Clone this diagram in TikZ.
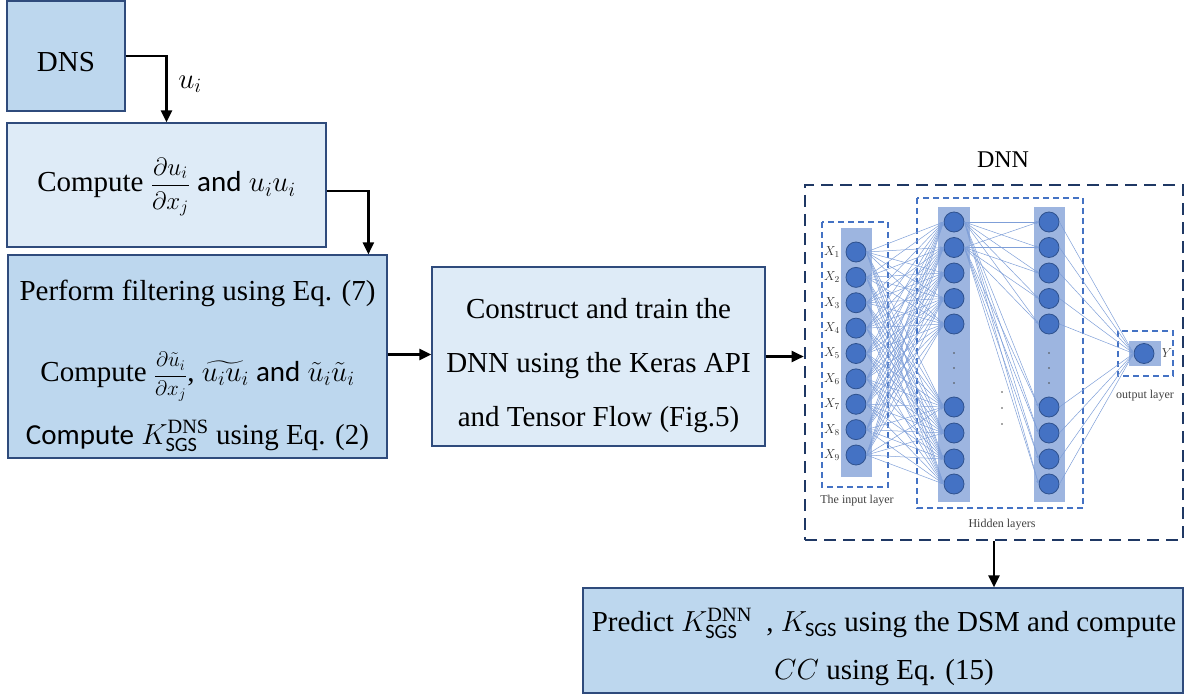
\RequirePackage{fix-cm}
\documentclass[tikz,border=0pt]{standalone}
\usepackage{amsmath}
\usepackage{fontspec}
\setmainfont{Liberation Serif}
\newfontfamily\calibri{Carlito}
\usetikzlibrary{arrows.meta}

\definecolor{boxedge}{HTML}{2F4B7C}
\definecolor{boxmid}{HTML}{BDD7EE}
\definecolor{boxlight}{HTML}{DEEBF7}
\definecolor{netdash}{HTML}{1F3864}
\definecolor{layerdash}{HTML}{4472C4}
\definecolor{barfill}{HTML}{9DB5E0}
\definecolor{neuronfill}{HTML}{4472C4}
\definecolor{neuronedge}{HTML}{2F528F}
\definecolor{wirecol}{HTML}{7F9FD8}
\definecolor{smalltext}{HTML}{404040}

% fraction set in a slightly reduced size
\newcommand{\midfrac}[3]{{\fontsize{#1}{#1}\selectfont$\dfrac{#2}{#3}$}}

\begin{document}
\begin{tikzpicture}[x=1pt,y=-1pt,
  procbox/.style={draw=boxedge, line width=1.2pt, inner sep=0pt},
  bigtxt/.style={inner sep=0pt, font=\fontsize{29}{35}\selectfont},
  flow/.style={line width=2.3pt, -{Triangle[length=12pt,width=11pt]}},
  netframe/.style={draw=netdash, line width=2.6pt, dash pattern=on 12pt off 7pt},
  layerframe/.style={draw=layerdash, line width=1.2pt, dash pattern=on 6pt off 4pt},
  layerbar/.style={fill=barfill, draw=none},
  neuron/.style={circle, minimum size=20pt, inner sep=0pt, fill=neuronfill,
    draw=neuronedge, line width=0.8pt},
  wire/.style={draw=wirecol, line width=0.5pt, -{Stealth[length=3.5pt,width=2.6pt]}},
  smalllabel/.style={inner sep=0pt, text=smalltext, font=\fontsize{12}{14}\selectfont},
  dotmark/.style={fill=black!70, draw=none}
]
\useasboundingbox (0,0) rectangle (1187,698);

% ---------- process boxes ----------
\node[procbox, fill=boxmid, minimum width=118pt, minimum height=110pt]
  (dns) at (66,56) {};
\node[bigtxt] (dnstxt) at (66,62) {DNS};
\node[procbox, fill=boxlight, minimum width=319pt, minimum height=124pt]
  (compute) at (166.5,185) {};
\node[bigtxt] (comptxt) at (166.5,187)
  {Compute \midfrac{25}{\partial u_i}{\partial x_j} {\calibri and} $u_i u_i$};
\node[procbox, fill=boxmid, minimum width=379pt, minimum height=203pt]
  (filter) at (197.5,356.5) {};
\node[bigtxt] (filt1) at (197.5,293) {Perform filtering using Eq. (7)};
\node[bigtxt] (filt2) at (197.5,377)
  {Compute \midfrac{21}{\partial \tilde{u}_i}{\partial x_j}, $\widetilde{u_i u_i}$ {\calibri and} $\tilde{u}_i\tilde{u}_i$};
\node[bigtxt] (filt3) at (197.5,436)
  {{\calibri Compute} $K^{\text{DNS}}_{\text{\calibri SGS}}$ using Eq. (2)};
\node[procbox, fill=boxlight, minimum width=333pt, minimum height=179pt]
  (construct) at (598.5,356.5) {};
\node[bigtxt, align=center, font=\fontsize{29}{54}\selectfont] (consttxt) at (598.5,366)
  {Construct and train the\\DNN using the Keras API\\and Tensor Flow (Fig.5)};
\node[procbox, fill=boxmid, minimum width=600pt, minimum height=105pt]
  (predict) at (883,640.5) {};
\node[bigtxt, align=center, font=\fontsize{29}{48}\selectfont] (predtxt) at (884,647)
  {Predict $K^{\text{DNN}}_{\text{\calibri SGS}}$\ \ , $K_{\text{\calibri SGS}}$\ using the DSM and compute\\
   $CC$ using Eq. (15)};

% ---------- network frame ----------
\node[netframe, minimum width=378pt, minimum height=355pt, inner sep=0pt]
  (dnn) at (994,362.5) {};
\node[inner sep=0pt, font=\fontsize{24}{28}\selectfont] (dnnlabel) at (1003,160) {DNN};

% layer bars and dashed layer frames
\fill[layerbar] (841,228) rectangle (872,477);
\fill[layerbar] (938,207) rectangle (970,502);
\fill[layerbar] (1034,207) rectangle (1065,502);
\fill[layerbar] (1129,341) rectangle (1161,366);
\draw[layerframe] (822,222) rectangle (888,487);
\draw[layerframe] (917,198) rectangle (1083,508);
\draw[layerframe] (1118,331) rectangle (1173,376);

% input neurons
\foreach \i in {1,...,9} {
  \pgfmathsetmacro\yy{252+25.375*(\i-1)}
  \node[neuron] (in\i) at (856,\yy) {};
  \node[smalllabel, text=black!80, font=\fontsize{13}{15}\selectfont] (xl\i) at (832,\yy) {$X_{\i}$};
}
% hidden neurons
\foreach \j/\yy in {1/222,2/247.5,3/273,4/298.5,5/324,6/407,7/433,8/459,9/484} {
  \node[neuron] (ha\j) at (954,\yy) {};
  \node[neuron] (hb\j) at (1049,\yy) {};
}
% output neuron
\node[neuron] (out) at (1144,353.5) {};
\node[smalllabel, text=black!80, font=\fontsize{13}{15}\selectfont] (ylab) at (1167,353) {$Y$};

% weights
\foreach \i in {1,...,9}
  \foreach \j in {1,...,9}
    \draw[wire] (in\i.east) -- (ha\j.west);
\foreach \i in {1,2}
  \foreach \j in {1,...,9}
    \draw[wire] (ha\i.east) -- (hb\j.west);
\foreach \j in {1,...,9}
  \draw[wire] (hb\j.east) -- (out.west);

% ellipsis dots
\foreach \yy in {353,368,383} {
  \fill[dotmark] (954,\yy) circle (0.9pt);
  \fill[dotmark] (1049,\yy) circle (0.9pt);
}
\foreach \yy in {392,408,424}
  \fill[dotmark] (1002,\yy) circle (0.9pt);

% layer captions
\node[smalllabel] (incap) at (857,501) {The input layer};
\node[smalllabel] (hidcap) at (1002,525) {Hidden layers};
\node[smalllabel] (outcap) at (1145,396) {output layer};

% ---------- flow arrows ----------
\draw[flow] (dns.east) -| (compute.north);
\node[inner sep=0pt, font=\fontsize{29}{35}\selectfont] (ulab) at (190,84) {$u_i$};
\draw[flow] ([yshift=-6pt]compute.east) -| ([xshift=361pt]filter.north west);
\draw[flow] ([yshift=2pt]filter.east) -- ([yshift=2pt]construct.west);
\draw[flow] (construct.east) -- (construct.east -| dnn.west);
\draw[flow] (dnn.south) -- (dnn.south |- predict.north);
\end{tikzpicture}
\end{document}
